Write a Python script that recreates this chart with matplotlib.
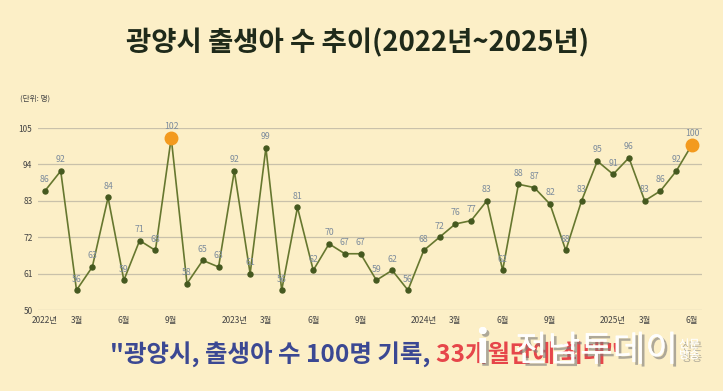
import matplotlib
matplotlib.use("Agg")
import matplotlib.pyplot as plt
import matplotlib.patheffects as pe

plt.rcParams['font.family'] = ['Noto Sans CJK KR', 'DejaVu Sans']

BIRTHS = [86, 92, 56, 63, 84, 59, 71, 68, 102, 58, 65, 63,
          92, 61, 99, 56, 81, 62, 70, 67, 67, 59, 62, 56,
          68, 72, 76, 77, 83, 62, 88, 87, 82, 68, 83, 95,
          91, 96, 83, 86, 92, 100]
TICK_POS = [0, 2, 5, 8, 12, 14, 17, 20, 24, 26, 29, 32, 36, 38, 41]
TICK_LABELS = ['2022년', '3월', '6월', '9월', '2023년', '3월', '6월', '9월',
               '2024년', '3월', '6월', '9월', '2025년', '3월', '6월']
Y_TICKS = [50, 61, 72, 83, 94, 105]
HIGHLIGHT = [8, 41]

BG = '#fcefc7'
W, H = 723, 391

fig = plt.figure(figsize=(W / 100, H / 100), dpi=100, facecolor=BG)
ax = fig.add_axes([38 / W, 1 - 310 / H, 664 / W, 182 / H], facecolor=BG)

x = list(range(len(BIRTHS)))
ax.plot(x, BIRTHS, color='#66772f', lw=1.2, marker='o', ms=3.6,
        mfc='#45591f', mec='#45591f', zorder=3, clip_on=False)
ax.plot([x[i] for i in HIGHLIGHT], [BIRTHS[i] for i in HIGHLIGHT], 'o',
        ms=9, color='#f39a1e', zorder=4, clip_on=False)

for xi, v in zip(x, BIRTHS):
    ax.annotate(str(v), (xi, v), xytext=(0, 8), textcoords='offset points',
                ha='center', va='center', fontsize=6.3, color='#7d8c9c',
                zorder=5, annotation_clip=False)

ax.set_xlim(-0.44, 41.63)
ax.set_ylim(50, 105)
ax.set_yticks(Y_TICKS)
ax.set_xticks(TICK_POS)
ax.set_xticklabels(TICK_LABELS)
ax.tick_params(axis='both', length=0, labelsize=6, colors='#444444')
ax.tick_params(axis='y', pad=4)
ax.tick_params(axis='x', pad=4)
ax.grid(axis='y', color='#c9c1aa', lw=0.9)
ax.set_axisbelow(True)
for s in ax.spines.values():
    s.set_visible(False)

fig.text(20 / W, 1 - 99 / H, '(단위: 명)', fontsize=5.5, color='#444444',
         ha='left', va='center')

fig.text(358 / W, 1 - 43 / H, '광양시 출생아 수 추이(2022년~2025년)', fontsize=19.8,
         fontweight='bold', color='#1f2a1a', ha='center', va='center')

# bottom headline in two colours
t1 = fig.text(110 / W, 1 - 355 / H, '"광양시, 출생아 수 100명 기록, ', fontsize=17.6,
              fontweight='bold', color='#3b4893', ha='left', va='center')
fig.canvas.draw()
bb = t1.get_window_extent()
fig.text(bb.x1 / W, 1 - 355 / H, '33개월만에 최대"', fontsize=17.6,
         fontweight='bold', color='#e6464a', ha='left', va='center')

# watermark (logo text overlaid on the headline, as in the source image)
shadow = [pe.withSimplePatchShadow(offset=(2, -2), shadow_rgbFace='#7a7a7a', alpha=0.6),
          pe.Normal()]
fig.text(476 / W, 1 - 350 / H, 'i', fontsize=32, fontweight='bold',
         color='white', alpha=0.92, ha='left', va='center', path_effects=shadow)
fig.text(515 / W, 1 - 351 / H, '전남투데이', fontsize=25.5, fontweight='medium',
         color='white', alpha=0.92, ha='left', va='center', path_effects=shadow)
fig.text(679 / W, 1 - 350 / H, '신문\n방송', fontsize=8, fontweight='medium',
         color='white', alpha=0.92, ha='left', va='center', linespacing=1.1,
         path_effects=shadow)

fig.savefig('out.png', dpi=100, facecolor=BG)
